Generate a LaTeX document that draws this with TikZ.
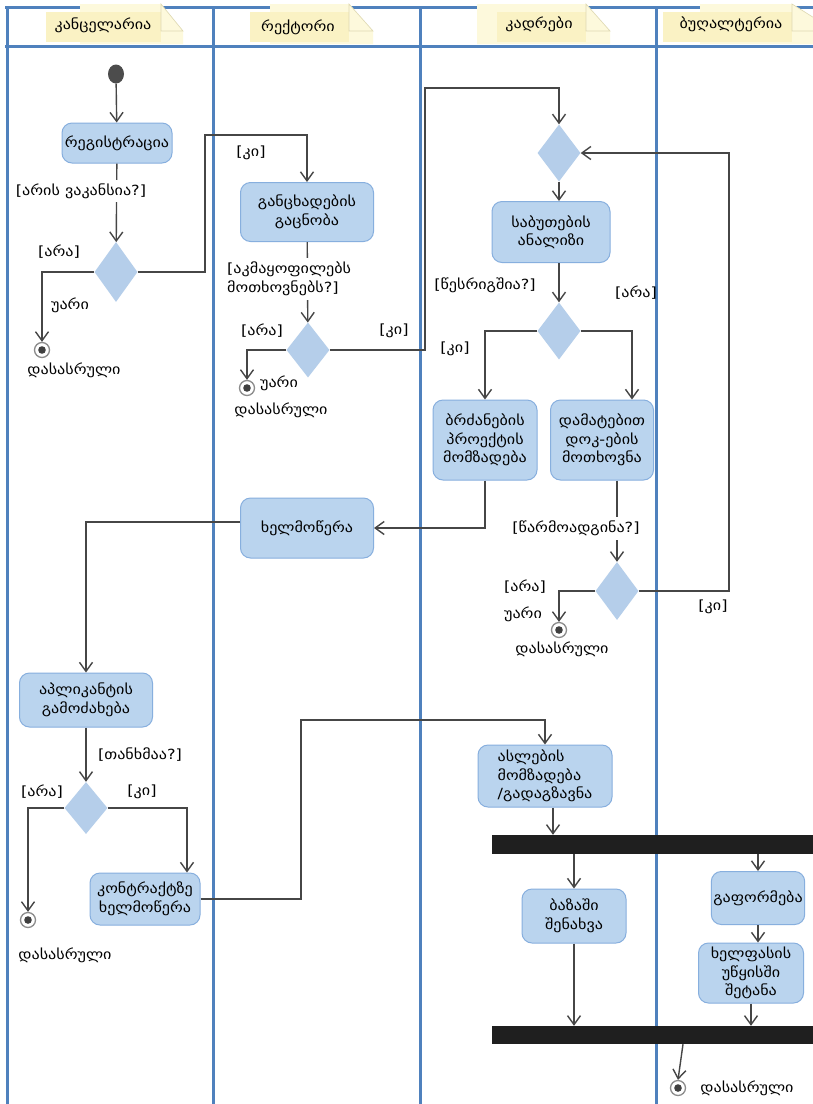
\documentclass[tikz,border=0pt]{standalone}
\usepackage{fontspec}
\setmainfont{DejaVu Sans}[FakeStretch=1.15]
\usetikzlibrary{shapes.geometric,arrows.meta,calc}
\definecolor{lane}{RGB}{79,129,189}
\definecolor{boxfill}{RGB}{186,212,238}
\definecolor{boxline}{RGB}{135,175,222}
\definecolor{dfill}{RGB}{181,206,234}
\definecolor{flowc}{RGB}{70,70,70}
\definecolor{notefill}{RGB}{253,249,220}
\definecolor{labfill}{RGB}{250,242,196}
\definecolor{noteline}{RGB}{222,216,178}
\newcommand\gtxt{\fontsize{14}{18.5}\selectfont}
\begin{document}
\begin{tikzpicture}[x=1pt,y=-1pt,
  act/.style={draw=boxline, line width=1pt, fill=boxfill, rounded corners=10pt, align=center, inner sep=2pt, font=\gtxt},
  dec/.style={diamond, fill=dfill, draw=none, inner sep=0pt, minimum width=43pt},
  flow/.style={draw=flowc, line width=1.4pt, -{Straight Barb[length=9pt,width=13pt]}},
  lbl/.style={font=\gtxt, inner sep=0pt, text=black},
  cutlbl/.style={lbl, fill=white, inner ysep=4pt, inner xsep=1pt},
  fin/.style={circle, draw=black!45, line width=1.3pt, fill=white, minimum size=15pt, inner sep=0pt,
    path picture={\fill[black!75] (path picture bounding box.center) circle (3.8pt);}},
  bar/.style={rectangle, fill=black!88, inner sep=0pt, minimum width=321pt},
  lanel/.style={draw=lane, line width=3pt},
  notebox/.style={fill=notefill, draw=noteline, line width=0.6pt}
]
\useasboundingbox (0,0) rectangle (813,1104);
\clip (0,0) rectangle (813,1104);
\fill[white] (0,0) rectangle (813,1104);

% swimlanes
\draw[lanel] (5,7) -- (813,7);
\draw[lanel] (5,46) -- (813,46);
\foreach \xx in {7,213,420,656} \draw[lanel] (\xx,6) -- (\xx,1104);

% header notes: note start / label start / label end (fold start) / note end
\foreach \xn/\xa/\xf/\xb in {80/46/161/183,270/250/349/373,477/497/586/610,700/663/792/835}{
  \path[fill=notefill] (\xn,4) -- (\xf,4) -- (\xb,31) -- (\xb,44) -- (\xn,44) -- cycle;
  \path[fill=labfill] (\xa,12) rectangle (\xf,42);
  \path[notebox] (\xf,4) -- (\xf,31) -- (\xb,31) -- cycle;
}
\node[lbl] (h1) at (103,25) {კანცელარია};
\node[lbl] (h2) at (298,27) {რექტორი};
\node[lbl] (h3) at (539,24) {კადრები};
\node[lbl] (h4) at (731,24) {ბუღალტერია};

% nodes
\node[ellipse, fill=black!70, minimum width=16pt, minimum height=19pt, inner sep=0pt] (st) at (116,74) {};
\node[act, minimum width=110pt, minimum height=40pt] (reg) at (117,143) {რეგისტრაცია};
\node[dec, minimum height=60pt] (d1) at (116,272) {};
\node[fin] (f1) at (42,350) {};

\node[act, minimum width=133pt, minimum height=59pt] (gac) at (307,212) {განცხადების\\გაცნობა};
\node[dec, minimum height=55pt] (d2) at (308,350) {};
\node[fin] (f2) at (247,388) {};
\node[act, minimum width=133pt, minimum height=60pt] (xel) at (307,528) {ხელმოწერა};

\node[dec, minimum height=57pt] (d3) at (559,153) {};
\node[act, minimum width=118pt, minimum height=61pt] (sab) at (551,232) {საბუთების\\ანალიზი};
\node[dec, minimum height=57pt] (d4) at (559,331) {};
\node[act, minimum width=104pt, minimum height=80pt] (brd) at (485,440) {ბრძანების\\პროექტის\\მომზადება};
\node[act, minimum width=103pt, minimum height=80pt] (dam) at (602,440) {დამატებით\\დოკ-ების\\მოთხოვნა};
\node[dec, minimum height=58pt] (d5) at (617,591) {};
\node[fin] (f3) at (559,630) {};

\node[act, minimum width=133pt, minimum height=54pt] (apl) at (86,700) {აპლიკანტის\\გამოძახება};
\node[dec, minimum height=52pt] (d6) at (86,808) {};
\node[fin] (f4) at (28,920) {};
\node[act, minimum width=110pt, minimum height=52pt] (kon) at (145,899) {კონტრაქტზე\\ხელმოწერა};

\node[act, minimum width=134pt, minimum height=62pt, align=left] (asl) at (545,776) {ასლების\\მომზადება\\/გადაგზავნა};
\node[bar, minimum height=19pt] (b1) at (652.5,844.5) {};
\node[act, minimum width=104pt, minimum height=54pt] (baz) at (574,916) {ბაზაში\\შენახვა};
\node[act, minimum width=91pt, minimum height=53pt] (gaf) at (758,898) {გაფორმება};
\node[act, minimum width=105pt, minimum height=60pt] (xlf) at (751,973) {ხელფასის\\უწყისში\\შეტანა};
\node[bar, minimum height=18pt] (b2) at (652.5,1035) {};
\node[fin] (f5) at (678,1088) {};

% helper coordinates
\coordinate (damin) at ($(dam.north)+(30,0)$);
\coordinate (xelout) at ($(xel.west)+(0,-6)$);
\coordinate (konin) at ($(kon.north)+(42,0)$);
\coordinate (aslout) at ($(asl.south)+(8,0)$);
\coordinate (b2out) at ($(b2.south)+(30.5,0)$);

% connectors
\draw[flow] (st) -- (reg);
\draw[flow] (reg) -- (d1);
\draw[flow] (d1.west) -| (f1.north);
\draw[flow] (d1.east) -| (205,135) -| (gac.north);
\draw[flow] (gac) -- (d2);
\draw[flow] (d2.west) -| (f2.north);
\draw[flow] (d2.east) -| (425,88) -| (d3.north);
\draw[flow] (d3.south) -- (d3.south |- sab.north);
\draw[flow] (d4.north |- sab.south) -- (d4.north);
\draw[flow] (d4.west) -| (brd.north);
\draw[flow] (d4.east) -| (damin);
\draw[flow] (brd.south) |- (xel.east);
\draw[flow] (xelout) -| (apl.north);
\draw[flow] (d5.north |- dam.south) -- (d5.north);
\draw[flow] (d5.west) -| (f3.north);
\draw[flow] (d5.east) -| (729,153) -- (d3.east);
\draw[flow] (apl) -- (d6);
\draw[flow] (d6.west) -| (f4.north);
\draw[flow] (d6.east) -| (konin);
\draw[flow] (kon.east) -| (301,720) -| (asl.north);
\draw[flow] (aslout) -- (aslout |- b1.north);
\draw[flow] (baz.north |- b1.south) -- (baz.north);
\draw[flow] (baz.south) -- (baz.south |- b2.north);
\draw[flow] (gaf.north |- b1.south) -- (gaf.north);
\draw[flow] (gaf.south) -- (gaf.south |- xlf.north);
\draw[flow] (xlf.south) -- (xlf.south |- b2.north);
\draw[flow] (b2out) -- (f5.north);

% labels
\node[cutlbl] (l1) at (81,191) {[არის ვაკანსია?]};
\node[lbl] (l2) at (59,252) {[არა]};
\node[lbl] (l3) at (70,305) {უარი};
\node[lbl] (l4) at (74,370) {დასასრული};
\node[lbl] (l5) at (251,153) {[კი]};
\node[cutlbl, anchor=west, align=left] (l6) at (226,279) {[აკმაყოფილებს\\მოთხოვნებს?]};
\node[lbl] (l7) at (262,331) {[არა]};
\node[lbl] (l8) at (394,331) {[კი]};
\node[lbl] (l9) at (279,383) {უარი};
\node[lbl] (l10) at (281,410) {დასასრული};
\node[lbl] (l11) at (485,285) {[წესრიგშია?]};
\node[lbl] (l12) at (636,293) {[არა]};
\node[lbl] (l13) at (455,349) {[კი]};
\node[cutlbl] (l14) at (576,528) {[წარმოადგინა?]};
\node[lbl] (l15) at (525,587) {[არა]};
\node[lbl] (l16) at (523,614) {უარი};
\node[lbl] (l17) at (562,649) {დასასრული};
\node[lbl] (l18) at (713,607) {[კი]};
\node[lbl] (l19) at (140,755) {[თანხმაა?]};
\node[lbl] (l20) at (42,792) {[არა]};
\node[lbl] (l21) at (142,792) {[კი]};
\node[lbl] (l22) at (65,955) {დასასრული};
\node[lbl] (l23) at (747,1088) {დასასრული};
\end{tikzpicture}
\end{document}
